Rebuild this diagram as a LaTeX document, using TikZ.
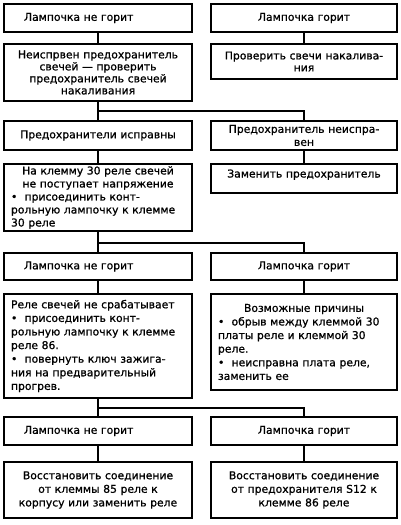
\documentclass[tikz,border=0pt]{standalone}
\usepackage{fontspec}
\setmainfont{DejaVu Sans}[FakeBold=0.9]

\begin{document}
\begin{tikzpicture}[x=1pt,y=-1pt]
  \tikzstyle{box}=[rectangle, draw, line width=1.1pt, inner xsep=7pt, inner ysep=2pt,
    align=center, font=\fontsize{10.8}{13}\selectfont]
  \tikzstyle{lbox}=[box, minimum width=188pt, text width=174pt]
  \tikzstyle{rbox}=[box, minimum width=186pt, text width=172pt]
  \tikzstyle{edge}=[draw, line width=1.1pt]

  \useasboundingbox (0,0) rectangle (400,525);

  \node[lbox, minimum height=28pt, align=left] (L1) at (98, 18) {\hspace*{13pt}Лампочка не горит};
  \node[rbox, minimum height=28pt] (R1) at (304, 18) {Лампочка горит};

  \node[lbox, minimum height=57pt, font=\fontsize{10.8}{12}\selectfont] (L2) at (98, 72.5)
    {Неиспрвен предохранитель\\свечей — проверить\\предохранитель свечей\\накаливания};
  \node[rbox, minimum height=35pt, font=\fontsize{10.8}{12}\selectfont] (R2) at (304, 61.5)
    {Проверить свечи накалива-\\ния};

  \node[lbox, minimum height=29pt] (L3) at (98, 135.5) {Предохранители исправны};
  \node[rbox, minimum height=29pt] (R3) at (304, 135.5) {Предохранитель неиспра-\\вен};

  \node[lbox, minimum height=67pt, align=left] (L4) at (98, 197.5)
    {{\centering На клемму 30 реле свечей\\не поступает напряжение\par}
     •\ \ присоединить конт-\\рольную лампочку к клемме\\30 реле};
  \node[rbox, minimum height=29pt, text depth=10pt] (R4) at (304, 178.5) {Заменить предохранитель};

  \node[lbox, minimum height=27pt, align=left] (L5) at (98, 266.5) {\hspace*{13pt}Лампочка не горит};
  \node[rbox, minimum height=27pt] (R5) at (304, 266.5) {Лампочка горит};

  \node[lbox, minimum height=104pt, align=left, font=\fontsize{10.8}{13.6}\selectfont] (L6) at (98, 346)
    {Реле свечей не срабатывает\\•\ \ присоединить конт-\\рольную лампочку к клемме\\реле 86.\\
     •\ \ повернуть ключ зажига-\\ния на предварительный\\прогрев.};
  \node[rbox, minimum height=96pt, align=left, font=\fontsize{10.8}{13.6}\selectfont] (R6) at (304, 342)
    {{\centering Возможные причины\par}
     •\ \ обрыв между клеммой 30\\платы реле и клеммой 30\\реле.\\•\ \ неисправна плата реле,\\заменить ее};

  \node[lbox, minimum height=28pt, align=left] (L7) at (98, 431) {\hspace*{13pt}Лампочка не горит};
  \node[rbox, minimum height=28pt] (R7) at (304, 431) {Лампочка горит};

  \node[lbox, minimum height=56pt, font=\fontsize{10.8}{13.6}\selectfont] (L8) at (98, 490)
    {Восстановить соединение\\от клеммы 85 реле к\\корпусу или заменить реле};
  \node[rbox, minimum height=56pt, font=\fontsize{10.8}{13.6}\selectfont] (R8) at (304, 490)
    {Восстановить соединение\\от предохранителя S12 к\\клемме 86 реле};

  \coordinate (j1) at (98, 111);
  \coordinate (j2) at (98, 243);
  \coordinate (j3) at (98, 408);

  \path[edge] (L1) edge (L2);
  \path[edge] (R1) edge (R2);
  \path[edge] (L2) edge (L3);
  \path[edge] (R3) edge (R4);
  \path[edge] (L3) edge (L4);
  \path[edge] (L4) edge (L5);
  \path[edge] (R5) edge (R6);
  \path[edge] (L5) edge (L6);
  \path[edge] (L6) edge (L7);
  \path[edge] (R7) edge (R8);
  \path[edge] (L7) edge (L8);
  \path[edge] (j1) -| (R3);
  \path[edge] (j2) -| (R5);
  \path[edge] (j3) -| (R7);
\end{tikzpicture}
\end{document}
